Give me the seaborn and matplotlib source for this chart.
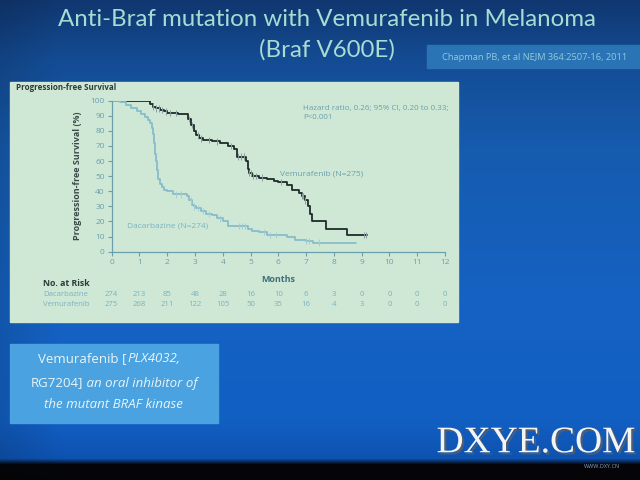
import numpy as np
import pandas as pd
import matplotlib
matplotlib.use("Agg")
import matplotlib.pyplot as plt
import matplotlib.transforms as mtransforms
import matplotlib.patheffects as pe
from matplotlib.patches import Rectangle
import seaborn as sns

# ---------------- data ----------------
vem_t = [0, 1.38, 1.5, 1.6, 1.75, 1.9, 2.0, 2.4, 2.75, 2.85, 2.95, 3.05, 3.15, 3.3, 3.6,
         3.9, 4.2, 4.4, 4.5, 4.85, 4.9, 4.95, 5.05, 5.3, 5.6, 5.85, 6.0, 6.3, 6.5, 6.75,
         6.85, 6.95, 7.05, 7.15, 7.22, 7.7, 8.48, 9.2]
vem_s = [100, 98, 96, 95, 94, 93, 92, 91, 88, 84, 80, 77, 75, 74, 73,
         72, 70, 68, 63, 60, 55, 52, 50, 49, 48, 47, 46, 44, 41, 39,
         37, 34, 30, 25, 20, 15, 11, 11]
dac_t = [0, 0.3, 0.5, 0.7, 0.9, 1.05, 1.2, 1.3, 1.38, 1.45, 1.5, 1.53, 1.56, 1.6, 1.64,
         1.68, 1.74, 1.8, 1.9, 2.0, 2.2, 2.7, 2.8, 2.88, 2.95, 3.05, 3.2, 3.4, 3.6, 3.8,
         4.0, 4.2, 4.9, 5.05, 5.3, 5.6, 6.3, 6.6, 7.0, 7.25, 8.8]
dac_s = [100, 99, 97, 95, 93, 91, 89, 87, 85, 82, 78, 72, 65, 60, 54,
         48, 45, 43, 41, 40, 38, 37, 34, 31, 30, 29, 27, 25, 24, 22,
         20, 17, 15, 14, 13, 11, 10, 8, 7, 6, 6]
vem_censor = [1.5, 1.6, 1.7, 1.8, 1.95, 2.1, 2.3, 2.8, 2.9, 3.1, 3.2, 3.5, 3.8, 4.3,
              4.55, 4.65, 4.75, 4.95, 5.0, 5.1, 5.2, 5.4, 6.1, 6.85, 6.9, 6.95, 9.1, 9.15]
dac_censor = [2.3, 2.5, 2.85, 2.95, 3.1, 3.3, 3.5, 3.9, 4.6, 4.7, 4.8, 5.5, 5.7, 5.9,
              7.0, 7.1, 7.45]

months = list(range(0, 13))
risk_dac = [274, 213, 85, 48, 28, 16, 10, 6, 3, 0, 0, 0, 0]
risk_vem = [275, 268, 211, 122, 105, 50, 35, 16, 4, 3, 0, 0, 0]

title1 = "Anti-Braf mutation with Vemurafenib in Melanoma"
title2 = "(Braf V600E)"
citation = "Chapman PB, et al NEJM 364:2507-16, 2011"

VEM_C = "#1f2b2b"
DAC_C = "#86bccb"
TEAL = "#6a9fae"

df = pd.concat([
    pd.DataFrame({"month": vem_t, "pfs": vem_s, "arm": "Vemurafenib"}),
    pd.DataFrame({"month": dac_t, "pfs": dac_s, "arm": "Dacarbazine"}),
])

def step_at(ts, ss, q):
    idx = np.searchsorted(np.array(ts), np.array(q), side="right") - 1
    return np.array(ss)[idx]

cens = pd.concat([
    pd.DataFrame({"month": vem_censor, "pfs": step_at(vem_t, vem_s, vem_censor), "arm": "Vemurafenib"}),
    pd.DataFrame({"month": dac_censor, "pfs": step_at(dac_t, dac_s, dac_censor), "arm": "Dacarbazine"}),
])

# ---------------- figure ----------------
sns.set_theme(style="white")
plt.rcParams["font.family"] = ["Open Sans", "DejaVu Sans"]

W, H = 640, 480
fig = plt.figure(figsize=(6.4, 4.8), dpi=100)

# slide background (pixel coordinates)
bg = fig.add_axes([0, 0, 1, 1])
ys = np.array([0, 60, 150, 300, 420, 458, 464, 480])
rs = np.array([16, 20, 22, 21, 18, 14, 5, 5])
gs = np.array([55, 76, 92, 98, 95, 82, 6, 5])
bs = np.array([112, 148, 175, 195, 195, 175, 10, 8])
yy = np.arange(H)
col = np.stack([np.interp(yy, ys, rs), np.interp(yy, ys, gs), np.interp(yy, ys, bs)], axis=1)
img = np.repeat(col[:, None, :], W, axis=1)
xx = np.arange(W)
shade = 1 - 0.12 * np.clip((60 - xx) / 60, 0, 1)
img = img * shade[None, :, None]
bg.imshow(img.astype(np.uint8), extent=[0, W, H, 0], aspect="auto", interpolation="bilinear")
bg.set_xlim(0, W)
bg.set_ylim(H, 0)
bg.axis("off")

# titles
bg.text(327, 19, title1, color="#a8dcd2", fontsize=17.3, ha="center", va="center",
        family=["Lato", "DejaVu Sans"])
bg.text(327, 50, title2, color="#a8dcd2", fontsize=17.3, ha="center", va="center",
        family=["Lato", "DejaVu Sans"])
bg.add_patch(Rectangle((427, 45), 213, 23, color="#2a74b6", zorder=2))
bg.text(535, 57, citation, color="#93c8dc", fontsize=6.7, ha="center", va="center", zorder=3)

# chart panel
bg.add_patch(Rectangle((10, 82), 448, 240, color="#cfe8d5", zorder=2))
bg.text(16, 88, "Progression-free Survival", color="#2d3b3b", fontsize=5.8,
        fontweight="bold", ha="left", va="center", zorder=3)

# bottom text box
bg.add_patch(Rectangle((10, 344), 208, 79, color="#4aa2e0", zorder=2))
box_c = "#e9f4f6"
bg.text(127, 359, "Vemurafenib [", color=box_c, fontsize=9.5, ha="right", va="center", zorder=3)
bg.text(127, 359, "PLX4032,", color=box_c, fontsize=9.5, ha="left", va="center",
        style="italic", zorder=3)
bg.text(83, 383, "RG7204]", color=box_c, fontsize=9.5, ha="right", va="center", zorder=3)
bg.text(83, 383, " an oral inhibitor of", color=box_c, fontsize=9.5, ha="left", va="center",
        style="italic", zorder=3)
bg.text(113, 405, "the mutant BRAF kinase", color=box_c, fontsize=9.5, ha="center",
        va="center", style="italic", zorder=3)

# watermark
bg.text(536, 443, "DXYE.COM", color="#f2f4f6", fontsize=27, ha="center", va="center",
        family=["Liberation Serif"], zorder=4,
        path_effects=[pe.withSimplePatchShadow(offset=(1.5, -1.5), shadow_rgbFace="#55606a",
                                               alpha=0.9)])
bg.text(602, 466, "WWW.DXY.CN", color="#8aa0b8", fontsize=4, ha="center", va="center", zorder=4)

# ---------------- KM chart ----------------
x0, x1 = 111.7, 445.0
y0, y1 = 251.7, 100.7
ax = fig.add_axes([x0 / W, 1 - y0 / H, (x1 - x0) / W, (y0 - y1) / H])
ax.patch.set_alpha(0)

sns.lineplot(data=df, x="month", y="pfs", hue="arm", estimator=None, sort=False,
             drawstyle="steps-post", palette={"Vemurafenib": VEM_C, "Dacarbazine": DAC_C},
             linewidth=1.3, legend=False, ax=ax)
sns.scatterplot(data=cens, x="month", y="pfs", hue="arm", marker="|", s=22, linewidth=0.7,
                palette={"Vemurafenib": "#8a9ea0", "Dacarbazine": "#a6ccd6"},
                legend=False, ax=ax, zorder=3)

ax.set_xlim(0, 12)
ax.set_ylim(0, 100)
ax.set_xticks(months)
ax.set_yticks(range(0, 101, 10))
ax.tick_params(axis="both", which="both", direction="out", length=3, width=0.8,
               colors=TEAL, labelsize=6, pad=2, bottom=True, left=True)
for s in ["top", "right"]:
    ax.spines[s].set_visible(False)
for s in ["left", "bottom"]:
    ax.spines[s].set_color(TEAL)
    ax.spines[s].set_linewidth(0.9)
ax.set_xlabel("")
ax.set_ylabel("Progression-free Survival (%)", color="#3b4a4a", fontsize=6.5,
              fontweight="bold", labelpad=6)

ax.text(6.88, 97, "Hazard ratio, 0.26; 95% CI, 0.20 to 0.33;\nP<0.001", color=TEAL,
        fontsize=5.8, ha="left", va="top", linespacing=1.3)
ax.text(6.06, 51.5, "Vemurafenib (N=275)", color=TEAL, fontsize=6, ha="left", va="center")
ax.text(0.55, 17, "Dacarbazine (N=274)", color="#78b4c4", fontsize=6, ha="left", va="center")

# Months label and risk table
trans = mtransforms.blended_transform_factory(ax.transData, bg.transData)
ax.text(6, 279, "Months", transform=trans, color="#3f6f7c", fontsize=6.5,
        fontweight="bold", ha="center", va="center", clip_on=False)
bg.text(43, 284, "No. at Risk", color="#2d3b3b", fontsize=6.3, fontweight="bold",
        ha="left", va="center", zorder=3)
bg.text(43, 295, "Dacarbazine", color="#7ab2c2", fontsize=5.6, ha="left", va="center", zorder=3)
bg.text(43, 305, "Vemurafenib", color="#7ab2c2", fontsize=5.6, ha="left", va="center", zorder=3)
for m, d, v in zip(months, risk_dac, risk_vem):
    ax.text(m, 295, str(d), transform=trans, color="#7ab2c2", fontsize=5.6,
            ha="center", va="center", clip_on=False)
    ax.text(m, 305, str(v), transform=trans, color="#7ab2c2", fontsize=5.6,
            ha="center", va="center", clip_on=False)

fig.savefig("out.png", dpi=100)
